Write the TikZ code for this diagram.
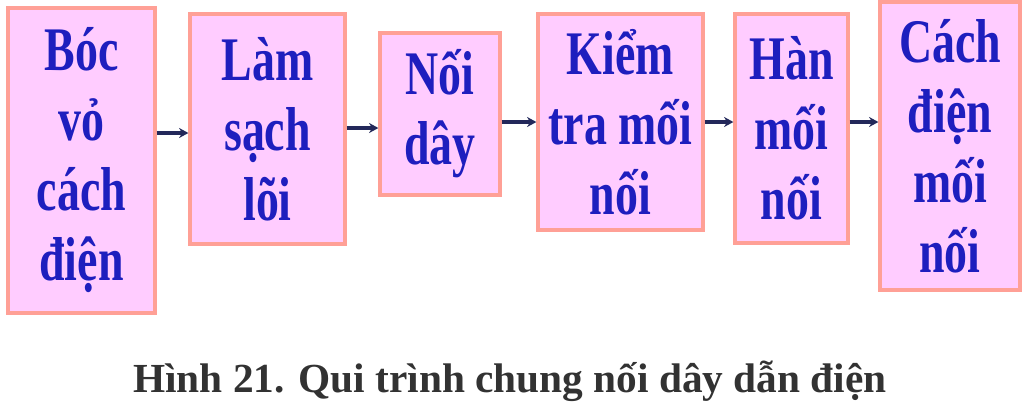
\documentclass[tikz,border=0pt]{standalone}
\usepackage{fontspec}
\setmainfont{Liberation Serif}
\newfontfamily\stepfont[FakeStretch=0.74]{Liberation Serif}
\usetikzlibrary{arrows.meta}

\definecolor{boxfill}{RGB}{255,204,255}
\definecolor{boxedge}{RGB}{255,160,150}
\definecolor{steptext}{RGB}{30,30,190}
\definecolor{arrowink}{RGB}{35,40,90}
\definecolor{captionink}{RGB}{50,50,50}

\tikzset{every picture/.style={line width=0.75pt}}
\tikzset{
  stepbox/.style={draw=boxedge, fill=boxfill, line width=2.4pt, inner sep=1pt,
    align=center, text=steptext, font=\stepfont\bfseries\fontsize{46.5}{52.5}\selectfont},
  flowarrow/.style={draw=arrowink, line width=2.5pt, -{Stealth[length=7pt,width=7.5pt]}},
  captiontext/.style={inner sep=0pt, text=captionink, font=\bfseries\fontsize{31}{36}\selectfont}
}

\begin{document}
\begin{tikzpicture}[x=0.75pt,y=0.75pt,yscale=-1,xscale=1]
\useasboundingbox (0,0) rectangle (1024,405);

%Shape: Rectangle [id:boc]
\node [stepbox, minimum width=110.25pt, minimum height=228.75pt] (boc) at (81.5,160.5) {Bóc\\vỏ\\cách\\điện};
%Shape: Rectangle [id:lamsach]
\node [stepbox, minimum width=116.25pt, minimum height=172.5pt] (lamsach) at (267.5,129) {Làm\\sạch\\lõi};
%Shape: Rectangle [id:noi]
\node [stepbox, minimum width=90pt, minimum height=121.5pt] (noi) at (440,114) {Nối\\dây};
%Shape: Rectangle [id:kiemtra]
\node [stepbox, minimum width=123.75pt, minimum height=162pt] (kiemtra) at (620.5,122) {Kiểm\\tra mối\\nối};
%Shape: Rectangle [id:han]
\node [stepbox, minimum width=84.75pt, minimum height=171.75pt] (han) at (791.5,128.5) {Hàn\\mối\\nối};
%Shape: Rectangle [id:cachdien]
\node [stepbox, minimum width=105pt, minimum height=216pt] (cachdien) at (950,146) {Cách\\điện\\mối\\nối};

%Straight Lines [id:boc-lamsach]
\draw [flowarrow] (boc.east |- 0,133) -- (lamsach.west |- 0,133);
%Straight Lines [id:lamsach-noi]
\draw [flowarrow] (lamsach.east |- 0,128) -- (noi.west |- 0,128);
%Straight Lines [id:noi-kiemtra]
\draw [flowarrow] (noi.east |- 0,122) -- (kiemtra.west |- 0,122);
%Straight Lines [id:kiemtra-han]
\draw [flowarrow] (kiemtra.east |- 0,122) -- (han.west |- 0,122);
%Straight Lines [id:han-cachdien]
\draw [flowarrow] (han.east |- 0,122) -- (cachdien.west |- 0,122);

% Text Node
\node [captiontext, anchor=base] (caption) at (510,392) {Hình 21. Qui trình chung nối dây dẫn điện};

\end{tikzpicture}
\end{document}
